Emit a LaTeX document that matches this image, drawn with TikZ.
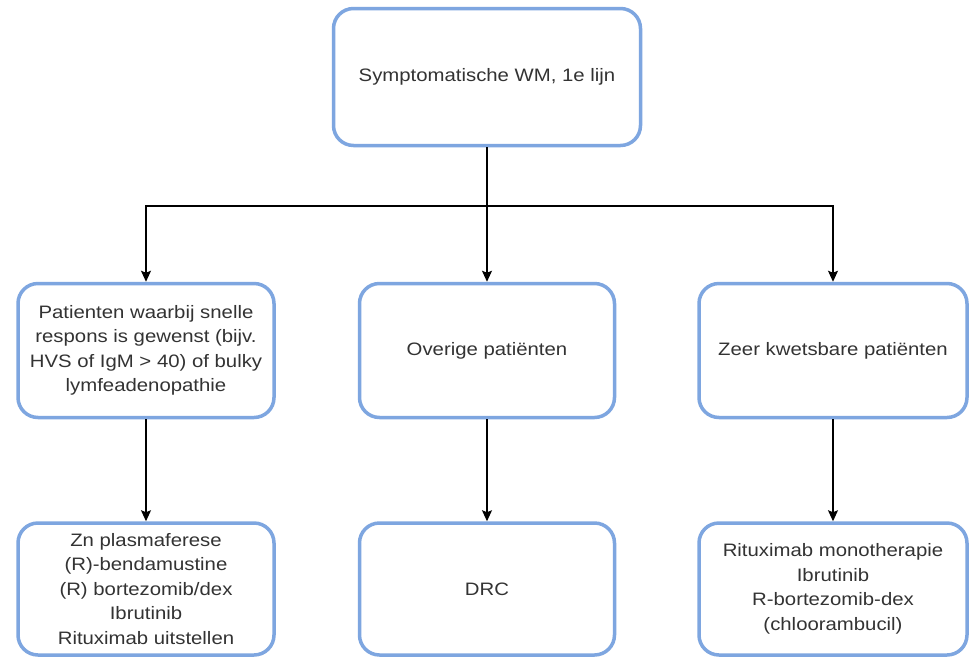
\documentclass[tikz,border=0pt]{standalone}
\usepackage{fontspec}
\setmainfont{Liberation Sans}[FakeStretch=1.13]
\usetikzlibrary{arrows.meta}
\definecolor{boxblue}{HTML}{7EA6E0}
\definecolor{txt}{HTML}{333333}
\begin{document}
\begin{tikzpicture}[x=1pt,y=-1pt,
  box/.style={draw=boxblue,line width=3.5pt,rounded corners=20pt,fill=white,
    align=center,text=txt,font=\fontsize{18}{24.5}\selectfont,inner sep=4pt},
  conn/.style={line width=1.3pt,draw=black},
  arr/.style={conn,-{Stealth[length=11pt,width=10pt,inset=2pt]}}]
\useasboundingbox[fill=white] (0,0) rectangle (970,657);
\node[box,minimum width=307pt,minimum height=137pt] (top) at (487,77) {Symptomatische WM, 1e lijn};
\node[box,minimum width=256pt,minimum height=134pt] (l2) at (146,350.5) {Patienten waarbij snelle\\respons is gewenst (bijv.\\HVS of IgM > 40) of bulky\\lymfeadenopathie};
\node[box,minimum width=255pt,minimum height=134pt] (m2) at (487,350.5) {Overige patiënten};
\node[box,minimum width=268pt,minimum height=134pt] (r2) at (833,350.5) {Zeer kwetsbare patiënten};
\node[box,minimum width=256pt,minimum height=132pt] (l3) at (146,589) {Zn plasmaferese\\(R)-bendamustine\\(R) bortezomib/dex\\Ibrutinib\\Rituximab uitstellen};
\node[box,minimum width=255pt,minimum height=132pt] (m3) at (487,589) {DRC};
\node[box,minimum width=268pt,minimum height=132pt] (r3) at (833,589) {Rituximab monotherapie\\Ibrutinib\\R-bortezomib-dex\\(chloorambucil)};
\coordinate (j) at (487,206);
\draw[conn] (top.south) -- (j);
\draw[arr] (j) -- (m2.north);
\draw[arr] (j) -| (l2.north);
\draw[arr] (j) -| (r2.north);
\draw[arr] (l2) -- (l3);
\draw[arr] (m2) -- (m3);
\draw[arr] (r2) -- (r3);
\end{tikzpicture}
\end{document}
